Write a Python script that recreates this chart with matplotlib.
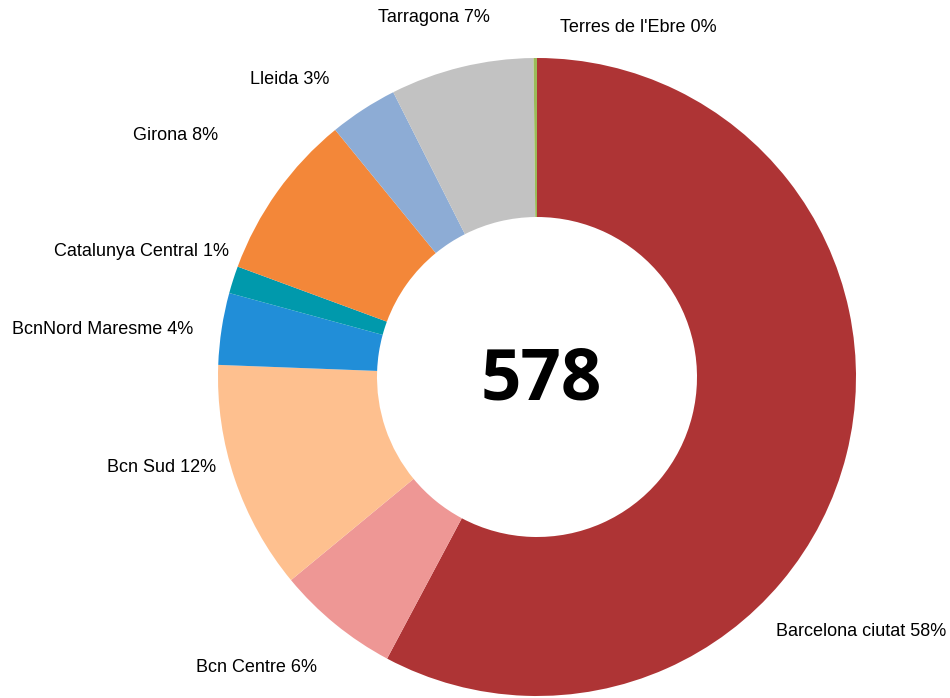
import matplotlib
matplotlib.use('Agg')
import matplotlib.pyplot as plt

matplotlib.rcParams['font.family'] = ['Liberation Sans', 'DejaVu Sans']

regions = ['Barcelona ciutat', 'Bcn Centre', 'Bcn Sud', 'BcnNord Maresme',
           'Catalunya Central', 'Girona', 'Lleida', 'Tarragona',
           "Terres de l'Ebre"]
counts = [334, 36, 67, 21, 8, 49, 20, 42, 1]
colors = ['#AE3435', '#EE9795', '#FEC08F', '#218ED8', '#0099AC',
          '#F38739', '#8DACD5', '#C2C2C2', '#9BBB59']

# label centres in pixel coords (from top-left)
label_xy = [(861, 632), (256, 667), (162, 468), (103, 330), (142, 252),
            (176, 136), (290, 79), (434, 17), (638, 28)]

W, H = 950, 698
fig = plt.figure(figsize=(W / 100, H / 100), dpi=100)
ax = fig.add_axes([0, 0, 1, 1])

total = sum(counts)
ax.pie(counts, colors=colors, startangle=90, counterclock=False,
       center=(537, H - 377), radius=319,
       wedgeprops=dict(width=159, edgecolor='none', linewidth=0))

ax.set_xlim(0, W)
ax.set_ylim(0, H)
ax.set_aspect('equal')
ax.axis('off')

for name, c, (x, y) in zip(regions, counts, label_xy):
    pct = round(100 * c / total)
    ax.text(x, H - y, f'{name} {pct}%', ha='center', va='center', fontsize=13)

ax.text(541, H - 381, str(total), ha='center', va='center',
        fontsize=51, fontweight='bold', family='Open Sans')

fig.savefig('out.png', dpi=100)
